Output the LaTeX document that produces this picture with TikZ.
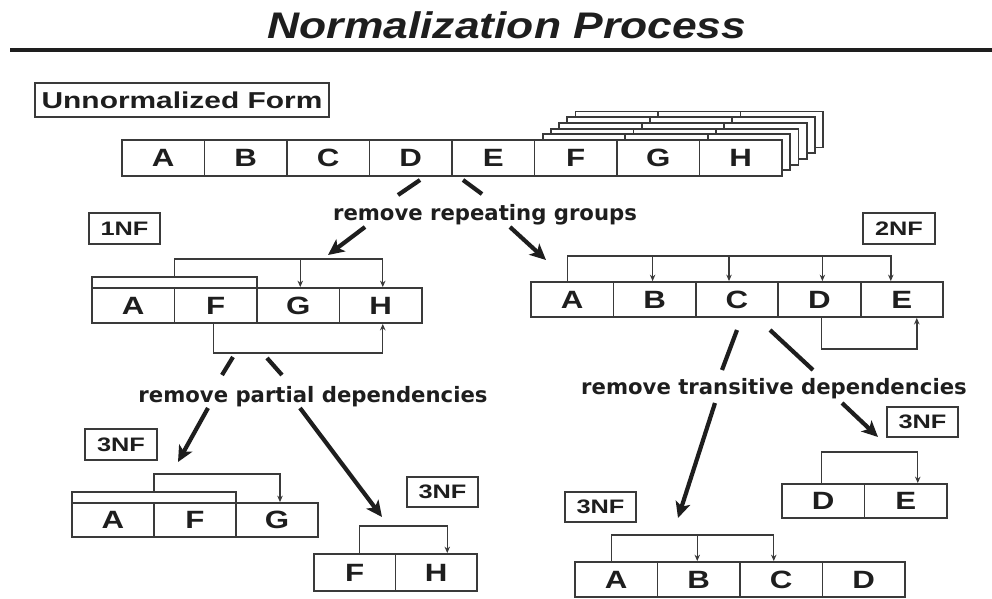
\documentclass[tikz,border=0pt]{standalone}
\usepackage{fontspec}
\usepackage{graphicx}
\usetikzlibrary{arrows.meta}
\newfontfamily\lsans{Liberation Sans}
\newfontfamily\dvsans{DejaVu Sans}
% letters in this sheet are set wide
\newcommand\wide[1]{\scalebox{1.3}[1]{#1}}
\newcommand\cl[1]{\raisebox{-1.5pt}{\scalebox{1.25}[1]{#1}}}
\definecolor{ink}{HTML}{1E1E1E}
\definecolor{edge}{HTML}{3A3A3A}

\begin{document}
\begin{tikzpicture}[x=1pt,y=-1pt,
  cell/.style={draw=edge, line width=1.8pt, fill=white, minimum width=82.5pt,
    minimum height=35pt, inner sep=0pt, text=ink,
    font=\lsans\bfseries\fontsize{25}{25}\selectfont},
  keystrip/.style={draw=edge, line width=1.8pt, fill=white, inner sep=0pt,
    minimum height=11pt},
  lbl/.style={draw=edge, line width=1.6pt, fill=white, inner sep=0pt, text=ink,
    font=\lsans\bfseries\fontsize{19.5}{19.5}\selectfont},
  steptext/.style={text=ink, inner sep=0pt, anchor=base,
    font=\dvsans\bfseries\fontsize{21.2}{21.2}\selectfont},
  dep/.style={draw=edge, line width=1.4pt},
  deptip/.style={dep, -{Stealth[length=6.5pt,width=5.5pt]}},
  stub/.style={draw=ink, line width=4.2pt},
  bigarrow/.style={draw=ink, line width=4.2pt, -{Stealth[length=16pt,width=15pt,inset=4pt]}},
]
\useasboundingbox (0,0) rectangle (992,598);

% ---------- title ----------
\node[anchor=base, inner sep=0pt, text=ink,
  font=\lsans\bfseries\itshape\fontsize{37}{42}\selectfont] (title) at (507,38)
  {\scalebox{1.2}[1]{Normalization Process}};
\coordinate (ruleL) at (10,50);
\coordinate (ruleR) at (992,50);
\draw[ink, line width=4.5pt] (ruleL) -- (ruleR);

% ---------- unnormalized form ----------
\node[lbl, minimum width=294pt, minimum height=34pt,
  font=\lsans\bfseries\fontsize{23}{23}\selectfont] (unf) at (182,100)
  {\wide{Unnormalized Form}};

% repeating groups stacked behind F, G, H
\foreach \k in {5,4,3,2,1} {
  \node[cell, minimum height=36pt] (bk\k-f) at (575.75+8.2*\k,158-5.7*\k) {};
  \node[cell, minimum height=36pt] (bk\k-g) at (658.25+8.2*\k,158-5.7*\k) {};
  \node[cell, minimum height=36pt] (bk\k-h) at (740.75+8.2*\k,158-5.7*\k) {};
}
\node[cell, minimum height=36pt] (uA) at (163.25,158) {\cl{A}};
\node[cell, minimum height=36pt] (uB) at (245.75,158) {\cl{B}};
\node[cell, minimum height=36pt] (uC) at (328.25,158) {\cl{C}};
\node[cell, minimum height=36pt] (uD) at (410.75,158) {\cl{D}};
\node[cell, minimum height=36pt] (uE) at (493.25,158) {\cl{E}};
\node[cell, minimum height=36pt] (uF) at (575.75,158) {\cl{F}};
\node[cell, minimum height=36pt] (uG) at (658.25,158) {\cl{G}};
\node[cell, minimum height=36pt] (uH) at (740.75,158) {\cl{H}};

% ---------- step 1: remove repeating groups ----------
\node[steptext] (rg) at (485,220) {remove repeating groups};
\coordinate (s1a) at (420,180); \coordinate (s1b) at (398,195);
\coordinate (s2a) at (463,180); \coordinate (s2b) at (482,194);
\coordinate (a1a) at (365,227); \coordinate (a1b) at (328,255);
\coordinate (a2a) at (510,227); \coordinate (a2b) at (546,260);
\draw[stub] (s1a) -- (s1b);
\draw[stub] (s2a) -- (s2b);
\draw[bigarrow] (a1a) -- (a1b);
\draw[bigarrow] (a2a) -- (a2b);

% ---------- 1NF ----------
\node[lbl, minimum width=71pt, minimum height=31pt] (l1nf) at (124.5,228.5) {\wide{1NF}};
\node[cell] (n1A) at (133.25,305.5) {\cl{A}};
\node[cell] (n1F) at (215.75,305.5) {\cl{F}};
\node[cell] (n1G) at (298.25,305.5) {\cl{G}};
\node[cell] (n1H) at (380.75,305.5) {\cl{H}};
\node[keystrip, minimum width=165pt] (k1) at (174.5,282.5) {};
\draw[deptip] (k1.north) -- ++(0,-17) -| ([xshift=2pt]n1H.north);
\draw[deptip] ([xshift=2pt]n1G.north) ++(0,-28) -- ([xshift=2pt]n1G.north);
\draw[deptip] ([xshift=-2.5pt]n1F.south) -- ++(0,29) -| ([xshift=2pt]n1H.south);

% ---------- 2NF ----------
\node[lbl, minimum width=72pt, minimum height=31pt] (l2nf) at (899,228.5) {\wide{2NF}};
\node[cell, minimum width=82.4pt] (t2A) at (572.2,299.5) {\cl{A}};
\node[cell, minimum width=82.4pt] (t2B) at (654.6,299.5) {\cl{B}};
\node[cell, minimum width=82.4pt] (t2C) at (737.0,299.5) {\cl{C}};
\node[cell, minimum width=82.4pt] (t2D) at (819.4,299.5) {\cl{D}};
\node[cell, minimum width=82.4pt] (t2E) at (901.8,299.5) {\cl{E}};
\draw[deptip] ([xshift=-5pt]t2A.north) -- ++(0,-25) -| ([xshift=-11pt]t2E.north);
\draw[deptip] ([xshift=-2pt]t2B.north) ++(0,-25) -- ([xshift=-2pt]t2B.north);
\draw[deptip] ([xshift=-8pt]t2C.north) ++(0,-25) -- ([xshift=-8pt]t2C.north);
\draw[deptip] ([xshift=3pt]t2D.north) ++(0,-25) -- ([xshift=3pt]t2D.north);
\draw[deptip] ([xshift=2pt]t2D.south) -- ++(0,31) -| ([xshift=15pt]t2E.south);

% ---------- step 2: remove partial dependencies ----------
\node[steptext] (pd) at (313,402) {remove partial dependencies};
\coordinate (s3a) at (233,357); \coordinate (s3b) at (222,375);
\coordinate (s4a) at (267,358); \coordinate (s4b) at (282,375);
\coordinate (a3a) at (208,408); \coordinate (a3b) at (178,462);
\coordinate (a4a) at (300,408); \coordinate (a4b) at (382,517);
\draw[stub] (s3a) -- (s3b);
\draw[stub] (s4a) -- (s4b);
\draw[bigarrow] (a3a) -- (a3b);
\draw[bigarrow] (a4a) -- (a4b);

% ---------- step 3: remove transitive dependencies ----------
\node[steptext] (td) at (774,394) {remove transitive dependencies};
\coordinate (s5a) at (737,330); \coordinate (s5b) at (722,370);
\coordinate (s6a) at (770,330); \coordinate (s6b) at (813,370);
\coordinate (a5a) at (715,403); \coordinate (a5b) at (678,518);
\coordinate (a6a) at (842,403); \coordinate (a6b) at (878,437);
\draw[stub] (s5a) -- (s5b);
\draw[stub] (s6a) -- (s6b);
\draw[bigarrow] (a5a) -- (a5b);
\draw[bigarrow] (a6a) -- (a6b);

% ---------- 3NF: A F G ----------
\node[lbl, minimum width=72pt, minimum height=31pt] (l3a) at (121,444.5) {\wide{3NF}};
\node[cell, minimum width=82pt, minimum height=34pt] (t3A) at (113,520) {\cl{A}};
\node[cell, minimum width=82pt, minimum height=34pt] (t3F) at (195,520) {\cl{F}};
\node[cell, minimum width=82pt, minimum height=34pt] (t3G) at (277,520) {\cl{G}};
\node[keystrip, minimum width=164pt] (k3) at (154,497.5) {};
\draw[deptip] (k3.north) -- ++(0,-17) -| ([xshift=3pt]t3G.north);

% ---------- 3NF: F H ----------
\node[lbl, minimum width=71pt, minimum height=30pt] (l3b) at (442.5,492) {\wide{3NF}};
\node[cell, minimum width=81.5pt, minimum height=37pt] (t4F) at (354.75,572.5) {\cl{F}};
\node[cell, minimum width=81.5pt, minimum height=37pt] (t4H) at (436.25,572.5) {\cl{H}};
\draw[deptip] ([xshift=5pt]t4F.north) -- ++(0,-27) -| ([xshift=11pt]t4H.north);

% ---------- 3NF: D E ----------
\node[lbl, minimum width=71pt, minimum height=30pt] (l3c) at (922.5,422) {\wide{3NF}};
\node[cell, minimum height=34pt] (t5D) at (823.25,501) {\cl{D}};
\node[cell, minimum height=34pt] (t5E) at (905.75,501) {\cl{E}};
\draw[deptip] ([xshift=-2pt]t5D.north) -- ++(0,-31) -| ([xshift=12pt]t5E.north);

% ---------- 3NF: A B C D ----------
\node[lbl, minimum width=71pt, minimum height=30pt] (l3d) at (600.5,507) {\wide{3NF}};
\node[cell] (t6A) at (616.25,579.5) {\cl{A}};
\node[cell] (t6B) at (698.75,579.5) {\cl{B}};
\node[cell] (t6C) at (781.25,579.5) {\cl{C}};
\node[cell] (t6D) at (863.75,579.5) {\cl{D}};
\draw[deptip] ([xshift=-5pt]t6A.north) -- ++(0,-26) -| ([xshift=-7.5pt]t6C.north);
\draw[deptip] ([xshift=-1.5pt]t6B.north) ++(0,-26) -- ([xshift=-1.5pt]t6B.north);

\end{tikzpicture}
\end{document}
